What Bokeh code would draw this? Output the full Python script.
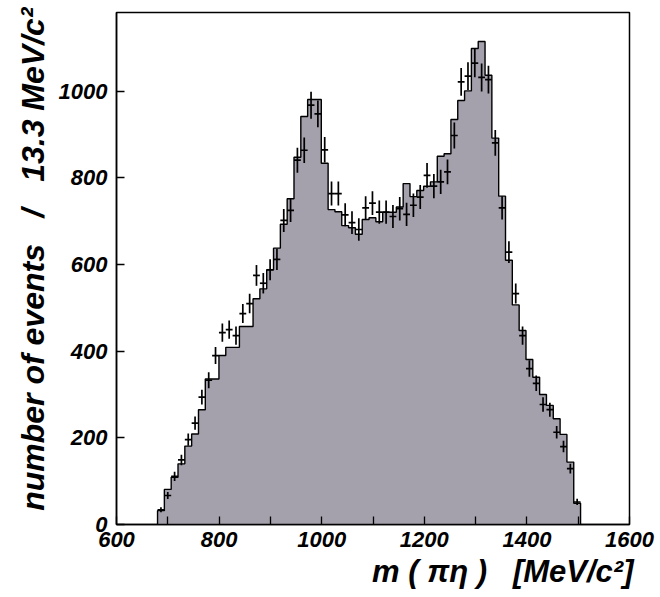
import numpy as np
from bokeh.plotting import figure
from bokeh.models import FixedTicker, Range1d, Title
from bokeh.embed import file_html
from bokeh.resources import INLINE

# ---------------- data ----------------
bin_low = 680.0
bin_width = 13.3

mc_counts = [32, 81, 109, 140, 181, 209, 265, 336, 336, 390,
             409, 409, 457, 457, 521, 544, 588, 638, 693, 752,
             848, 942, 981, 981, 834, 727, 722, 690, 685, 670,
             704, 708, 699, 721, 721, 733, 787, 757, 771, 781,
             791, 850, 856, 935, 979, 1001, 1099, 1115, 1037, 892,
             758, 610, 507, 448, 381, 340, 300, 275, 244, 208,
             144, 49]

data_counts = [34, 67, 111, 149, 196, 234, 294, 333, 390, 443,
               450, 436, 487, 510, 575, 557, 588, 612, 702, 725,
               841, 864, 968, 948, 865, 764, 764, 715, 697, 681,
               731, 742, 721, 721, 711, 729, 716, 737, 756, 806,
               781, 791, 814, 898, 1022, 1035, 1065, 1032, 1027, 881,
               731, 629, 533, 436, 360, 326, 277, 265, 213, 180,
               129, 52]

x_ticks = [600, 800, 1000, 1200, 1400, 1600]
x_minor_ticks = [700, 900, 1100, 1300, 1500]
y_ticks = [0, 200, 400, 600, 800, 1000]

SP = "\u00a0"
x_title = "m" + SP + "(" + SP + "πη" + SP + ")" + SP * 3 + "[MeV/c²]"
y_title = "number" + SP + "of" + SP + "events" + SP * 3 + "/" + SP * 3 + "13.3" + SP + "MeV/c²"

X0, X1 = 600, 1600
Y0, Y1 = 0, 1182

# ---------------- derived ----------------
n = len(mc_counts)
edges = bin_low + bin_width * np.arange(n + 1)
centers = 0.5 * (edges[:-1] + edges[1:])
mc = np.array(mc_counts, dtype=float)
dat = np.array(data_counts, dtype=float)
err = np.sqrt(dat)

step_x = [edges[0]]
step_y = [0.0]
for i in range(n):
    step_x += [edges[i], edges[i + 1]]
    step_y += [mc[i], mc[i]]
step_x.append(edges[-1])
step_y.append(0.0)

# ---------------- figure ----------------
FL, FR, FT, FB = 116, 31, 12, 73
W, H = 660, 597

p = figure(width=W, height=H, x_range=Range1d(X0, X1), y_range=Range1d(Y0, Y1),
           output_backend="svg", toolbar_location=None,
           min_border_left=FL, min_border_right=FR,
           min_border_top=FT, min_border_bottom=FB)
p.background_fill_color = "white"
p.border_fill_color = "white"
p.outline_line_color = "black"
p.outline_line_width = 1.5
p.xgrid.visible = False
p.ygrid.visible = False

p.patch(step_x, step_y, fill_color="#a4a0ac", line_color=None)
p.line(step_x, step_y, line_color="black", line_width=1.4)

p.segment(x0=centers, y0=dat - err, x1=centers, y1=dat + err,
          line_color="black", line_width=1.7)
p.segment(x0=centers - bin_width / 2, y0=dat, x1=centers + bin_width / 2, y1=dat,
          line_color="black", line_width=1.7)

FONT = "Liberation Sans"
for ax in (p.xaxis[0], p.yaxis[0]):
    ax.axis_line_color = "black"
    ax.axis_line_width = 1.5
    ax.major_tick_line_color = "black"
    ax.major_tick_line_width = 1.3
    ax.minor_tick_line_color = "black"
    ax.minor_tick_line_width = 1.3
    ax.major_tick_in = 8
    ax.major_tick_out = 0
    ax.minor_tick_in = 8
    ax.minor_tick_out = 0
    ax.major_label_text_font = FONT
    ax.major_label_text_font_style = "bold italic"
    ax.major_label_text_font_size = "22px"
    ax.major_label_text_color = "black"

p.xaxis.ticker = FixedTicker(ticks=x_ticks, minor_ticks=x_minor_ticks)
p.yaxis.ticker = FixedTicker(ticks=y_ticks, minor_ticks=[])
p.xaxis.major_label_standoff = 7
p.yaxis.major_label_standoff = 9

tkw = dict(text_font=FONT, text_font_style="bold italic",
           text_color="black", align="right")
p.add_layout(Title(text=x_title, text_font_size="31px", standoff=4, offset=-4, **tkw), "below")
p.add_layout(Title(text=y_title, text_font_size="32px", standoff=10, offset=-5, **tkw), "left")

open("out.html", "w").write(file_html(p, INLINE))
